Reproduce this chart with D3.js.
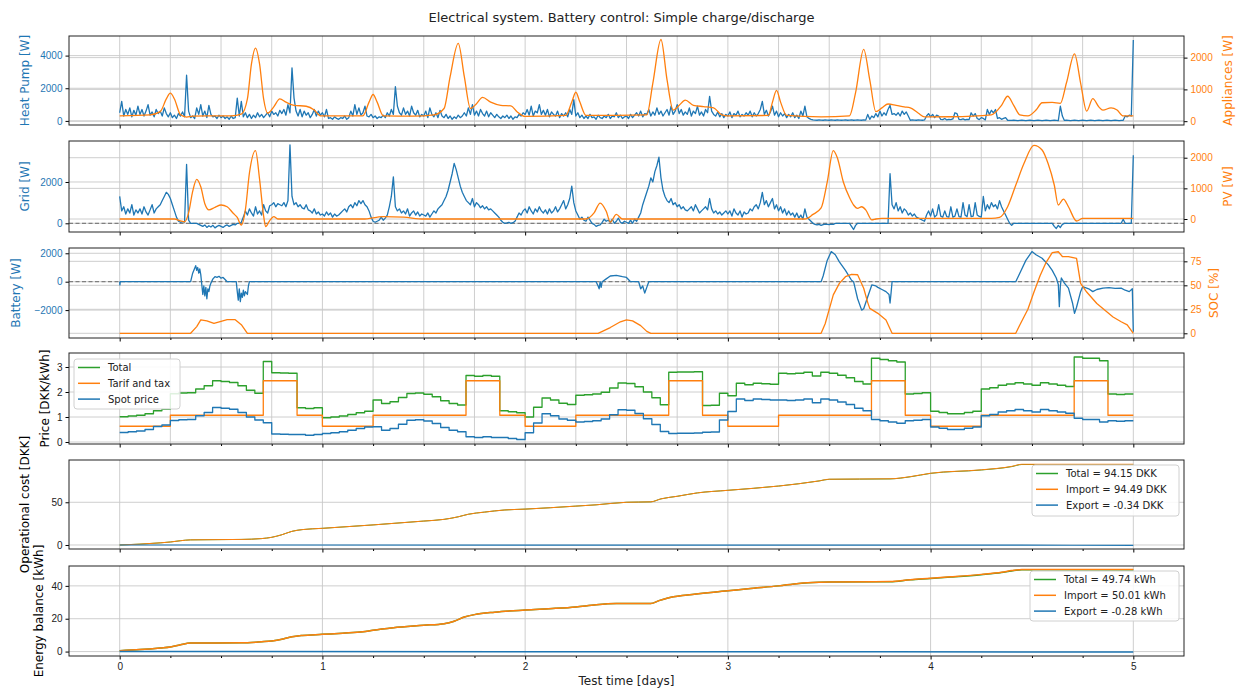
<!DOCTYPE html>
<html><head><meta charset="utf-8">
<script src="https://cdn.jsdelivr.net/npm/d3@7"></script>
<style>body{margin:0;background:#fff;font-family:"DejaVu Sans",sans-serif}</style>
</head><body><div id="chart"></div><script>
const width = 1243, height = 691;
const blue = "#1f77b4", orange = "#ff7f0e", green = "#2ca02c";

// ---- data ----
const noiseStep = 0.01; // days between samples of the noisy series
const heatPumpW = [
 500,1200,300,700,400,800,250,650,350,900, 400,700,300,600,1000,350,550,250,700,450,
 600,300,800,450,250,500,200,350,150,450, 300,550,250,2800,600,200,300,150,800,400,
 1000,300,600,200,950,400,250,300,150,350, 200,300,150,250,100,300,150,200,1400,300,
 1200,250,500,200,400,150,350,200,500,250, 400,200,350,500,250,600,400,500,300,650,
 450,700,350,1000,500,3250,1400,600,300,700, 250,600,350,500,200,400,700,300,600,350,
 500,250,700,150,200,100,250,150,100,200, 150,300,100,200,600,300,1000,400,800,350,
 500,900,300,250,400,200,300,150,250,200, 350,200,500,300,700,400,2100,900,500,350,
 800,400,600,300,900,500,350,650,250,400, 300,600,200,800,400,250,500,200,650,300,
 200,400,150,300,100,250,150,350,200,300, 500,300,800,400,1000,350,600,300,700,450,
 300,600,250,500,350,200,400,250,150,300, 200,350,150,300,100,250,200,400,300,500,
 400,700,350,900,300,600,500,1000,400,650, 350,700,250,550,400,300,600,200,450,300,
 500,250,700,400,1300,300,500,200,350,150, 300,150,400,200,250,100,350,200,150,300,
 200,400,150,300,250,500,200,350,150,250, 300,150,400,200,350,500,300,600,250,450,
 400,700,300,550,350,800,400,600,300,500, 700,350,900,400,600,1000,450,700,350,550,
 400,800,300,600,450,900,350,550,300,700, 500,1500,600,400,300,550,250,450,200,400,
 300,550,200,450,350,600,250,400,300,500, 350,600,250,500,300,450,700,1200,400,650,
 300,550,900,350,600,250,500,300,450,200, 400,250,500,200,350,150,600,300,900,250,
 150,100,60,50,40,60,50,40,60,50, 40,60,50,40,60,50,40,50,60,40,
 50,60,40,50,60,50,40,60,50,400, 100,300,200,450,250,600,300,500,350,700,
 950,400,450,350,500,300,600,400,550,300, 40,60,50,40,60,50,40,60,300,450,
 250,400,200,350,300,100,80,150,60,100, 80,120,500,450,100,80,120,60,100,80,
 500,300,450,150,80,200,150,60,700,400, 650,500,700,150,200,100,150,200,40,30,
 30,40,30,20,30,40,30,20,30,40, 30,20,30,40,30,20,30,40,30,20,
 30,40,30,20,900,300,30,40,30,20, 30,40,30,20,30,40,30,20,30,40,
 30,20,30,40,30,20,30,40,30,20, 30,40,30,20,30,40,300,250,350,300,
 4950];
const gridW = [
 1300,600,800,450,700,500,900,400,650,500, 700,450,800,550,400,650,900,500,700,800,
 900,1100,1300,1500,1400,1200,900,600,300,100, 50,80,60,2850,150,0,0,0,0,-50,
 -100,-150,-80,-200,-120,-180,-100,-220,-150,-100, -150,-200,-120,-80,-150,-100,-50,-80,0,0,
 50,300,600,400,700,500,350,800,450,600, 400,900,600,500,850,900,1000,800,950,900,
 850,1000,800,1100,3800,1300,900,1000,800,900, 750,700,900,650,600,500,700,450,550,400,
 450,350,550,400,500,300,450,350,400,500, 600,700,550,800,900,750,1000,850,1100,950,
 1100,900,800,600,300,100,50,100,150,300, 150,250,400,800,1300,2250,800,600,700,500,
 600,450,700,350,500,600,400,550,350,450, 400,350,500,300,450,600,500,700,800,900,
 1100,1300,1600,2000,2400,2900,2600,2200,1800,1500, 1300,1100,1000,900,1200,800,1000,900,750,850,
 700,800,650,700,600,500,400,300,150,50, 0,20,50,0,30,100,300,500,400,600,
 700,500,800,600,450,700,550,800,600,500, 650,450,700,500,600,800,550,700,900,1100,
 700,900,1200,1800,1000,600,400,200,300,150, 100,300,150,0,-50,-150,-100,-80,50,200,
 100,150,50,200,0,100,250,50,0,100, 50,0,150,0,200,100,300,500,900,1200,
 1500,1800,2200,2000,2500,2800,3200,2200,1600,1300, 1100,1000,1200,900,1000,800,900,700,800,650,
 600,700,800,600,900,700,500,600,700,800, 650,1200,700,500,600,450,550,400,500,600,
 450,600,350,700,500,400,600,300,550,450, 500,700,600,800,900,700,1000,1500,900,1100,
 800,1000,1200,700,900,600,800,500,700,400, 600,400,500,300,500,250,400,200,700,300,
 200,100,0,-50,-80,-50,-100,-60,-40,-50, -60,-40,-50,0,0,0,0,0,0,0,
 0,-150,-300,-100,0,0,0,0,0,0, 0,0,0,0,0,0,0,0,0,0,
 2400,900,700,1000,600,800,500,700,600,400, 500,350,450,300,250,200,150,100,400,600,
 350,700,300,400,900,350,300,600,320,300, 800,300,350,700,320,300,1000,400,320,900,
 320,350,1000,400,330,300,1300,600,900,700, 1000,800,900,700,1100,800,600,400,200,0,
 -100,0,0,0,0,0,0,0,0,0, 0,0,0,0,0,0,0,0,0,0,
 0,-150,-250,-100,-200,-50,0,0,0,0, 0,0,0,0,0,0,0,0,0,0,
 0,0,0,0,0,0,0,0,0,0, 0,0,0,0,0,200,0,0,0,0,
 3300];

// smooth series as [day, value]
const appliancesW = [[0,170],[0.15,200],[0.2,300],[0.23,700],[0.25,880],[0.27,700],[0.3,200],[0.33,130],[0.36,160],
 [0.55,170],[0.6,220],[0.63,700],[0.65,1800],[0.67,2300],[0.69,1800],[0.71,700],[0.73,250],[0.76,450],[0.79,700],
 [0.82,600],[0.86,500],[0.92,470],[0.96,350],[0.99,170],[1.2,170],[1.23,600],[1.25,840],[1.27,600],[1.3,170],
 [1.45,160],[1.55,200],[1.6,400],[1.63,1400],[1.67,2450],[1.7,1400],[1.73,400],[1.76,550],[1.79,750],[1.83,600],
 [1.88,500],[1.93,480],[1.96,300],[2.0,150],[2.2,180],[2.23,600],[2.25,910],[2.27,600],[2.3,180],[2.6,200],
 [2.63,1200],[2.67,2570],[2.7,1300],[2.73,350],[2.76,500],[2.79,660],[2.83,500],[2.88,460],[2.93,420],[2.97,200],
 [3.0,170],[3.2,180],[3.22,600],[3.24,970],[3.26,600],[3.29,180],[3.46,135],[3.6,170],[3.63,900],[3.67,2260],
 [3.7,1300],[3.73,300],[3.76,420],[3.79,540],[3.83,500],[3.87,450],[3.9,420],[3.94,250],[3.97,135],[4.1,140],
 [4.3,200],[4.35,500],[4.38,785],[4.41,500],[4.44,200],[4.48,165],[4.52,350],[4.55,580],[4.6,590],[4.64,560],
 [4.67,1200],[4.71,2120],[4.74,1200],[4.77,315],[4.8,710],[4.83,450],[4.85,345],[4.89,420],[4.92,350],[4.95,166],[5.0,166]];
const pvW = [[0,0],[0.27,0],[0.3,-60],[0.32,-90],[0.34,200],[0.36,900],[0.38,1295],[0.4,1050],[0.42,500],[0.44,300],
 [0.47,380],[0.5,457],[0.53,400],[0.56,186],[0.58,50],[0.6,-196],[0.62,300],[0.64,1500],[0.67,2233],[0.69,1300],
 [0.71,100],[0.72,-250],[0.74,-50],[0.76,75],[0.78,0],[1.2,0],[1.3,80],[1.4,60],[1.5,0],[2.3,0],[2.34,200],
 [2.37,520],[2.4,250],[2.42,-100],[2.45,150],[2.48,0],[3.38,0],[3.42,150],[3.46,360],[3.49,1200],[3.52,2233],
 [3.54,2000],[3.57,1200],[3.6,700],[3.62,457],[3.64,350],[3.66,400],[3.68,300],[3.71,-30],[3.73,0],[3.76,20],
 [4.3,20],[4.34,50],[4.38,400],[4.42,1100],[4.46,1800],[4.51,2400],[4.55,2250],[4.58,1800],[4.61,1110],[4.63,457],
 [4.655,650],[4.68,400],[4.72,-65],[4.75,20],[5.0,20]];
const batteryW = [[0,0],[0.001,-230],[0.003,0],[0.35,0],[0.36,600],[0.375,1130],[0.38,800],[0.385,1000],[0.39,600],
 [0.395,900],[0.4,500],[0.405,-200],[0.41,-900],[0.415,-300],[0.42,-1000],[0.425,-400],[0.43,-1200],[0.435,-500],
 [0.44,-700],[0.445,-300],[0.45,-100],[0.46,200],[0.47,350],[0.48,300],[0.49,380],[0.5,250],[0.51,300],[0.52,150],
 [0.53,0],[0.575,0],[0.58,-700],[0.585,-1300],[0.59,-500],[0.595,-1400],[0.6,-800],[0.605,-1100],[0.61,-600],
 [0.615,-1000],[0.62,-700],[0.63,-900],[0.635,-300],[0.64,0],[2.35,0],[2.36,-300],[2.365,-500],[2.37,0],
 [2.375,-400],[2.38,0],[2.4,200],[2.42,400],[2.45,450],[2.48,350],[2.5,300],[2.52,0],[2.56,0],[2.57,-500],
 [2.58,-300],[2.59,-800],[2.6,-400],[2.61,0],[3.46,0],[3.47,400],[3.49,1500],[3.51,2120],[3.53,1900],[3.55,1400],
 [3.58,800],[3.61,100],[3.62,0],[3.64,-1200],[3.66,-2000],[3.67,-1900],[3.69,-1060],[3.71,-230],[3.73,-300],
 [3.74,-400],[3.76,-550],[3.78,-700],[3.795,-900],[3.8,-1500],[3.805,-800],[3.81,0],[4.42,0],[4.44,600],
 [4.47,1500],[4.5,2120],[4.52,1900],[4.55,1650],[4.58,1200],[4.6,800],[4.62,260],[4.63,-200],[4.635,-1760],
 [4.64,-300],[4.645,260],[4.66,-100],[4.68,-450],[4.7,-1500],[4.71,-2230],[4.72,-1800],[4.74,-700],[4.75,-350],
 [4.78,-500],[4.8,-700],[4.82,-550],[4.85,-450],[4.88,-420],[4.91,-470],[4.94,-450],[4.96,-600],[4.98,-700],
 [4.995,-500],[5.0,-3530]];
const socPct = [[0,0],[0.35,0],[0.38,7],[0.4,13.9],[0.43,13],[0.465,10.4],[0.5,12.5],[0.53,14.2],[0.57,14.2],
 [0.6,9],[0.63,0],[2.36,0],[2.42,6],[2.47,12],[2.5,14],[2.53,13],[2.57,8],[2.6,2],[2.62,0],[3.46,0],[3.48,10],
 [3.52,40],[3.55,52],[3.58,59],[3.61,61.5],[3.64,61],[3.67,47],[3.69,32],[3.7,26],[3.74,20.8],[3.78,13.9],
 [3.81,0],[4.42,0],[4.44,8.7],[4.48,25],[4.51,43],[4.54,60],[4.57,74],[4.6,84],[4.63,85],[4.65,80],[4.68,80],
 [4.72,78],[4.74,52],[4.77,43],[4.82,31],[4.86,24],[4.9,17],[4.94,12],[4.97,8.7],[5.0,0]];

// hourly prices [DKK/kWh]
const spotPrice = [
 0.38,0.41,0.44,0.5,0.62,0.68,0.86,0.89,0.9,1.05,1.18,1.38,1.35,1.31,1.18,1.0,0.88,0.77,0.32,0.31,0.3,0.3,0.27,0.3,
 0.34,0.37,0.41,0.47,0.54,0.6,0.61,0.47,0.54,0.71,0.87,0.89,0.84,0.74,0.58,0.47,0.41,0.21,0.18,0.21,0.18,0.18,0.14,0.1,
 0.37,0.76,1.13,1.05,0.92,0.87,0.8,0.82,0.85,0.92,1.09,1.29,1.27,1.14,0.93,0.7,0.42,0.34,0.35,0.35,0.36,0.39,0.4,0.88,
 1.22,1.72,1.66,1.72,1.7,1.68,1.68,1.66,1.68,1.72,1.57,1.72,1.68,1.6,1.5,1.35,1.25,0.9,0.85,0.8,0.75,0.85,0.87,0.9,
 0.6,0.55,0.5,0.5,0.55,0.6,1.05,1.1,1.2,1.25,1.3,1.25,1.2,1.3,1.25,1.2,1.15,0.95,0.9,0.9,0.8,0.85,0.83,0.85];
const tariffPrice = [
 0.63,0.63,0.63,0.63,0.63,0.63,1.07,1.07,1.07,1.07,1.07,1.07,1.07,1.07,1.07,1.07,1.07,2.45,2.45,2.45,2.45,1.07,1.07,1.07,
 0.63,0.63,0.63,0.63,0.63,0.63,1.07,1.07,1.07,1.07,1.07,1.07,1.07,1.07,1.07,1.07,1.07,2.45,2.45,2.45,2.45,1.07,1.07,1.07,
 0.63,0.63,0.63,0.63,0.63,0.63,1.07,1.07,1.07,1.07,1.07,1.07,1.07,1.07,1.07,1.07,1.07,2.45,2.45,2.45,2.45,1.07,1.07,1.07,
 0.63,0.63,0.63,0.63,0.63,0.63,1.07,1.07,1.07,1.07,1.07,1.07,1.07,1.07,1.07,1.07,1.07,2.45,2.45,2.45,2.45,1.07,1.07,1.07,
 0.63,0.63,0.63,0.63,0.63,0.63,1.07,1.07,1.07,1.07,1.07,1.07,1.07,1.07,1.07,1.07,1.07,2.45,2.45,2.45,2.45,1.07,1.07,1.07];
const totalPrice = [
 1.01,1.04,1.07,1.13,1.25,1.31,1.93,1.96,1.97,2.12,2.25,2.45,2.42,2.38,2.25,2.07,1.95,3.22,2.77,2.76,2.75,1.37,1.34,1.37,
 0.97,1.0,1.04,1.1,1.17,1.23,1.68,1.54,1.61,1.78,1.94,1.96,1.91,1.81,1.65,1.54,1.48,2.66,2.63,2.66,2.63,1.25,1.21,1.17,
 1.0,1.39,1.76,1.68,1.55,1.5,1.87,1.89,1.92,1.99,2.16,2.36,2.34,2.21,2.0,1.77,1.49,2.79,2.8,2.8,2.81,1.46,1.47,1.95,
 1.85,2.35,2.29,2.35,2.33,2.31,2.75,2.73,2.75,2.79,2.64,2.79,2.75,2.67,2.57,2.42,2.32,3.35,3.3,3.25,3.2,1.92,1.94,1.97,
 1.23,1.18,1.13,1.13,1.18,1.23,2.12,2.17,2.27,2.32,2.37,2.32,2.27,2.37,2.32,2.27,2.22,3.4,3.35,3.35,3.25,1.92,1.9,1.92];

// cumulative cost [DKK] and energy [kWh]
const costImport = [[0,0],[0.1,1],[0.2,2.5],[0.25,3.5],[0.3,5],[0.35,6],[0.6,6.5],[0.7,7.5],[0.75,9],[0.8,12],
 [0.85,16],[0.9,18],[1.0,19.5],[1.25,23.5],[1.5,28],[1.6,30],[1.67,33],[1.72,36],[1.8,38.5],[1.9,41],[2.0,42],
 [2.25,45.5],[2.35,47],[2.5,50],[2.62,50.5],[2.67,54],[2.75,57],[2.85,61],[3.0,64],[3.25,69],[3.45,75],[3.5,77],
 [3.8,77.5],[3.9,80],[4.0,84],[4.25,88],[4.4,92],[4.45,94.49],[5.0,94.49]];
const costTotal = [[0,0],[0.1,1],[0.2,2.5],[0.25,3.5],[0.3,5],[0.35,6],[0.6,6.5],[0.7,7.5],[0.75,9],[0.8,12],
 [0.85,16],[0.9,18],[1.0,19.5],[1.25,23.5],[1.5,28],[1.6,30],[1.67,33],[1.72,36],[1.8,38.5],[1.9,41],[2.0,42],
 [2.25,45.5],[2.35,47],[2.5,50],[2.62,50.5],[2.67,54],[2.75,57],[2.85,61],[3.0,64],[3.25,69],[3.45,75],[3.5,76.9],
 [3.8,77.35],[3.9,79.85],[4.0,83.85],[4.25,87.8],[4.4,91.75],[4.45,94.2],[5.0,94.15]];
const costExport = [[0,0],[3.5,-0.1],[3.8,-0.15],[4.45,-0.25],[4.7,-0.3],[5.0,-0.34]];
const energyImport = [[0,0.5],[0.1,1.2],[0.2,2.2],[0.25,2.8],[0.3,4.2],[0.35,5.2],[0.6,5.3],[0.7,6],[0.75,6.5],
 [0.8,7.5],[0.85,9],[0.9,9.8],[1.0,10.5],[1.1,11.2],[1.2,12],[1.25,13],[1.35,14.5],[1.5,16],[1.6,17],[1.65,18.5],
 [1.7,21],[1.75,22.5],[1.85,24],[2.0,25.3],[2.15,26.3],[2.25,27.2],[2.35,28.5],[2.45,29.2],[2.62,29.3],[2.66,31],
 [2.7,32.5],[2.8,34.5],[3.0,37],[3.1,38.3],[3.25,40],[3.35,41.5],[3.45,42.2],[3.5,42.4],[3.8,42.6],[3.9,43.8],
 [4.0,44.6],[4.1,45.5],[4.25,47],[4.35,48.3],[4.4,49.3],[4.45,50],[5.0,50.01]];
const energyTotal = [[0,0.5],[0.1,1.2],[0.2,2.2],[0.25,2.8],[0.3,4.2],[0.35,5.2],[0.6,5.3],[0.7,6],[0.75,6.5],
 [0.8,7.5],[0.85,9],[0.9,9.8],[1.0,10.5],[1.1,11.2],[1.2,12],[1.25,13],[1.35,14.5],[1.5,16],[1.6,17],[1.65,18.5],
 [1.7,21],[1.75,22.5],[1.85,24],[2.0,25.3],[2.15,26.3],[2.25,27.2],[2.35,28.5],[2.45,29.2],[2.62,29.3],[2.66,31],
 [2.7,32.5],[2.8,34.5],[3.0,37],[3.1,38.3],[3.25,40],[3.35,41.5],[3.45,42.2],[3.5,42.32],[3.8,42.48],[3.9,43.67],
 [4.0,44.46],[4.1,45.35],[4.25,46.84],[4.35,48.12],[4.4,49.1],[4.45,49.78],[5.0,49.74]];
const energyExport = [[0,0],[3.5,-0.08],[3.8,-0.12],[4.45,-0.2],[4.7,-0.25],[5.0,-0.28]];

const legendPrice = ["Total", "Tarif and tax", "Spot price"];
const legendCost = ["Total = 94.15 DKK", "Import = 94.49 DKK", "Export = -0.34 DKK"];
const legendEnergy = ["Total = 49.74 kWh", "Import = 50.01 kWh", "Export = -0.28 kWh"];

// ---- layout ----
const svg = d3.select("#chart").append("svg").attr("width", width).attr("height", height)
  .style("font-family", "'DejaVu Sans', sans-serif");
const x = d3.scaleLinear().domain([-0.25, 5.25]).range([69, 1184]);
const quarterDays = d3.range(0, 5.001, 0.25);

const panels = [
  {top: 36, bottom: 125, yl: [-250, 5200], tl: [0, 2000, 4000], label: "Heat Pump [W]", lc: blue, lx: 25,
   yr: [-120, 2680], tr: [0, 1000, 2000], rlabel: "Appliances [W]", rx: 1228, qgrid: true},
  {top: 141, bottom: 232, yl: [-421, 3985], tl: [0, 2000], label: "Grid [W]", lc: blue, lx: 25,
   yr: [-424, 2545], tr: [0, 1000, 2000], rlabel: "PV [W]", rx: 1228, qgrid: true, dash: 0},
  {top: 248, bottom: 338, yl: [-3965, 2373], tl: [-2000, 0, 2000], label: "Battery [W]", lc: blue, lx: 16,
   yr: [-4.9, 88.9], tr: [0, 25, 50, 75], rlabel: "SOC [%]", rx: 1214, qgrid: true, dash: 0},
  {top: 353, bottom: 444, yl: [-0.08, 3.56], tl: [0, 1, 2, 3], label: "Price [DKK/kWh]", lc: "#000", lx: 45, qgrid: true},
  {top: 460, bottom: 549, yl: [-4.7, 99.5], tl: [0, 50], label: "Operational cost [DKK]", lc: "#000", lx: 25},
  {top: 566, bottom: 656, yl: [-2.7, 52.1], tl: [0, 20, 40], label: "Energy balance [kWh]", lc: "#000", lx: 39}
];

panels.forEach((p, i) => {
  p.y = d3.scaleLinear().domain(p.yl).range([p.bottom, p.top]);
  if (p.yr) p.y2 = d3.scaleLinear().domain(p.yr).range([p.bottom, p.top]);
  const g = svg.append("g");
  p.g = g;
  svg.append("clipPath").attr("id", "clip" + i).append("rect")
    .attr("x", x.range()[0]).attr("y", p.top).attr("width", x.range()[1] - x.range()[0]).attr("height", p.bottom - p.top);

  // grid
  const vgrid = p.qgrid ? quarterDays : d3.range(0, 6);
  g.selectAll(".vg").data(vgrid).join("line")
    .attr("x1", d => x(d)).attr("x2", d => x(d)).attr("y1", p.top).attr("y2", p.bottom)
    .attr("stroke", "#c8c8c8").attr("stroke-width", 0.9);
  const hg = p.tl.map(v => p.y(v)).concat(p.tr ? p.tr.map(v => p.y2(v)) : []);
  g.selectAll(".hg").data(hg).join("line")
    .attr("x1", x.range()[0]).attr("x2", x.range()[1]).attr("y1", d => d).attr("y2", d => d)
    .attr("stroke", "#c8c8c8").attr("stroke-width", 0.9);

  // axes
  const ax = g.append("g").attr("transform", `translate(${x.range()[0]},0)`)
    .call(d3.axisLeft(p.y).tickValues(p.tl).tickSize(3.5).tickPadding(3).tickFormat(d3.format("d")));
  ax.select(".domain").remove();
  ax.selectAll("text").attr("fill", p.lc === "#000" ? "#222" : p.lc).style("font-size", "10px");
  if (p.y2) {
    const ar = g.append("g").attr("transform", `translate(${x.range()[1]},0)`)
      .call(d3.axisRight(p.y2).tickValues(p.tr).tickSize(3.5).tickPadding(3).tickFormat(d3.format("d")));
    ar.select(".domain").remove();
    ar.selectAll("text").attr("fill", orange).style("font-size", "10px");
    svg.append("text").attr("transform", `translate(${p.rx},${(p.top + p.bottom) / 2}) rotate(-90)`)
      .attr("text-anchor", "middle").attr("dy", "0.35em").attr("fill", orange).style("font-size", "12px").text(p.rlabel);
  }
  const axb = g.append("g").attr("transform", `translate(0,${p.bottom})`)
    .call(d3.axisBottom(x).tickValues(quarterDays).tickSize(3.5).tickFormat(d => i === 5 && Number.isInteger(d) ? d : ""));
  axb.select(".domain").remove();
  axb.selectAll(".tick line").attr("y2", d => Number.isInteger(d) ? 3.5 : 2);
  axb.selectAll("text").style("font-size", "10px").attr("fill", "#222");

  svg.append("text").attr("transform", `translate(${p.lx},${(p.top + p.bottom) / 2}) rotate(-90)`)
    .attr("text-anchor", "middle").attr("dy", "0.35em").attr("fill", p.lc).style("font-size", "12px").text(p.label);

  if (p.dash !== undefined) {
    g.append("line").attr("x1", x.range()[0]).attr("x2", x.range()[1])
      .attr("y1", p.y(p.dash)).attr("y2", p.y(p.dash))
      .attr("stroke", "#7f7f7f").attr("stroke-width", 1.2).attr("stroke-dasharray", "4,2.5");
  }
});

function draw(p, i, data, scale, color, w, curve) {
  const line = d3.line().x(d => x(d[0])).y(d => scale(d[1])).curve(curve || d3.curveLinear);
  p.g.append("path").datum(data).attr("clip-path", `url(#clip${i})`)
    .attr("fill", "none").attr("stroke", color).attr("stroke-width", w).attr("stroke-linejoin", "round")
    .attr("d", line);
}
const regular = arr => arr.map((v, k) => [k * noiseStep, v]);
const hourly = arr => arr.map((v, k) => [k / 24, v]).concat([[5, arr[arr.length - 1]]]);

const [p1, p2, p3, p4, p5, p6] = panels;
draw(p1, 0, regular(heatPumpW), p1.y, blue, 1.3);
draw(p1, 0, appliancesW, p1.y2, orange, 1.3, d3.curveMonotoneX);
draw(p2, 1, regular(gridW), p2.y, blue, 1.3);
draw(p2, 1, pvW, p2.y2, orange, 1.3, d3.curveMonotoneX);
draw(p3, 2, batteryW, p3.y, blue, 1.3);
draw(p3, 2, socPct, p3.y2, orange, 1.3);
draw(p4, 3, hourly(totalPrice), p4.y, green, 1.3, d3.curveStepAfter);
draw(p4, 3, hourly(tariffPrice), p4.y, orange, 1.3, d3.curveStepAfter);
draw(p4, 3, hourly(spotPrice), p4.y, blue, 1.3, d3.curveStepAfter);
draw(p5, 4, costTotal, p5.y, green, 1, d3.curveMonotoneX);
draw(p5, 4, costImport, p5.y, orange, 1, d3.curveMonotoneX);
draw(p5, 4, costExport, p5.y, blue, 1.2);
draw(p6, 5, energyTotal, p6.y, green, 1.5, d3.curveMonotoneX);
draw(p6, 5, energyImport, p6.y, orange, 1.5, d3.curveMonotoneX);
draw(p6, 5, energyExport, p6.y, blue, 1.5);

// frames on top
panels.forEach(p => {
  svg.append("rect").attr("x", x.range()[0]).attr("y", p.top)
    .attr("width", x.range()[1] - x.range()[0]).attr("height", p.bottom - p.top)
    .attr("fill", "none").attr("stroke", "#222").attr("stroke-width", 1);
});

function legend(x0, y0, w, h, labels, colors, lw) {
  const g = svg.append("g").attr("transform", `translate(${x0},${y0})`);
  g.append("rect").attr("width", w).attr("height", h).attr("rx", 3)
    .attr("fill", "#fff").attr("fill-opacity", 0.85).attr("stroke", "#d0d0d0");
  labels.forEach((t, k) => {
    const yy = 8.5 + k * 15.8;
    g.append("line").attr("x1", 4).attr("x2", 26).attr("y1", yy).attr("y2", yy)
      .attr("stroke", colors[k]).attr("stroke-width", lw);
    g.append("text").attr("x", 34).attr("y", yy).attr("dy", "0.35em")
      .style("font-size", "10px").attr("fill", "#222").text(t);
  });
}
legend(74, 359, 106, 50, legendPrice, [green, orange, blue], 1.5);
legend(1032, 465, 147, 51, legendCost, [green, orange, blue], 1.5);
legend(1030, 571, 149, 50, legendEnergy, [green, orange, blue], 1.5);

svg.append("text").attr("x", 621.5).attr("y", 22).attr("text-anchor", "middle")
  .style("font-size", "13px").attr("fill", "#222").text("Electrical system. Battery control: Simple charge/discharge");
svg.append("text").attr("x", 626.5).attr("y", 685).attr("text-anchor", "middle")
  .style("font-size", "12px").attr("fill", "#222").text("Test time [days]");
</script></body></html>
